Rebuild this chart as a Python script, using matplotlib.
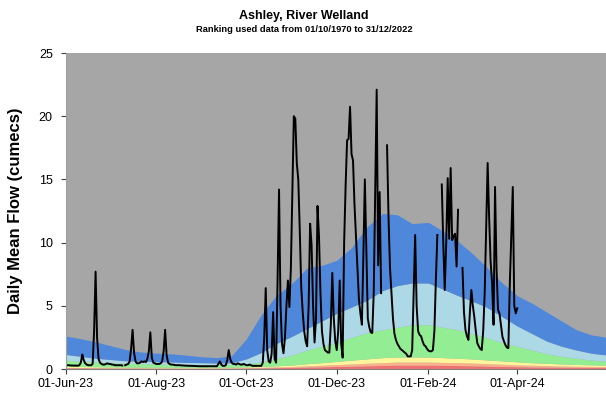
import numpy as np
import pandas as pd
import matplotlib
matplotlib.use("Agg")
import matplotlib.pyplot as plt
import matplotlib.dates as mdates

# ---- Daily mean flow (cumecs), one list per month; NaN = missing day ----
nan = np.nan
flow_jun23 = [0.3, 0.3, 0.3, 0.28, 0.28, 0.27, 0.27, 0.27, 0.26, 0.3,
              0.5, 1.15, 0.7, 0.45, 0.35, 0.3, 0.3, 0.3, 0.4, 3.0,
              7.7, 2.5, 0.8, 0.5, 0.4, 0.35, 0.35, 0.4, 0.45, 0.4]
flow_jul23 = [0.4, 0.35, 0.35, 0.3, 0.3, 0.3, 0.3, 0.3, 0.28, nan,
              0.3, 0.35, 0.4, 0.6, 1.6, 3.1, 1.3, 0.6, 0.45, 0.45,
              0.5, 0.6, 0.55, 0.6, 0.55, 0.8, 1.4, 2.9, 0.9, 0.5, 0.45]
flow_aug23 = [0.4, 0.4, 0.4, 0.45, 0.6, 1.4, 3.1, 1.1, 0.5, 0.4,
              0.35, 0.35, 0.33, 0.3, 0.3, 0.3, 0.3, 0.28, 0.28, 0.27,
              0.26, 0.26, 0.25, 0.25, 0.25, 0.24, 0.24, 0.23, 0.23, 0.22, 0.22]
flow_sep23 = [0.22, 0.22, 0.22, 0.22, 0.22, 0.22, 0.22, 0.22, 0.22, 0.22,
              0.22, 0.4, 0.6, 0.35, 0.25, 0.25, 0.3, 0.7, 1.5, 0.8,
              0.5, 0.4, 0.4, 0.35, 0.45, 0.4, 0.35, 0.35, 0.4, 0.35]
flow_oct23 = [0.3, 0.3, 0.35, 0.3, 0.25, 0.25, 0.25, 0.25, 0.25, 0.25,
              0.25, 0.5, 2.5, 6.4, 1.5, 0.6, 0.5, 1.2, 4.5, 0.8,
              0.5, 7.0, 14.2, 5.0, 2.0, 1.25, 2.5, 5.0, 7.0, 4.9, 8.0]
flow_nov23 = [14.0, 20.0, 19.8, 16.3, 15.0, 11.0, 6.5, 4.5, 3.0, 2.2,
              1.8, 5.0, 11.5, 9.8, 5.0, 2.1, 4.0, 12.9, 10.5, 6.0,
              3.0, 2.0, 1.5, 1.4, 1.3, 1.3, 3.5, 7.6, 4.0, 2.2]
flow_dec23 = [1.5, 3.0, 7.0, 2.0, 0.9, 10.0, 14.5, 18.1, 18.2, 20.75,
              17.0, 16.5, 13.0, 10.5, 8.0, 5.5, 4.4, 3.5, 9.0, 15.0,
              9.5, 4.0, 3.3, 2.9, 2.85, 6.0, 14.0, 22.1, 8.2, 14.0, 6.0]
flow_jan24 = [nan, nan, nan, 17.7, 12.0, 8.0, 6.0, 4.0, 2.8, 2.3,
              2.0, 1.8, 1.6, 1.5, 1.4, 1.3, 1.2, 1.0, 1.0, 1.0,
              1.5, 6.0, 10.6, 5.0, 3.0, 2.7, 2.6, 2.2, 1.9, 1.8, 1.6]
flow_feb24 = [1.45, 1.4, 1.4, 1.5, 3.0, 7.0, 10.6, nan, nan, 14.6,
              10.0, 6.25, 10.0, 15.1, 10.3, 15.9, 10.2, 10.5, 10.7, 8.1,
              12.6, nan, nan, 8.0, 4.5, 3.1, 2.6, 2.3, 4.5]
flow_mar24 = [6.25, 5.0, 4.1, 3.0, 2.05, 1.8, 1.6, 1.5, 3.0, 6.0,
              11.0, 16.3, 12.0, 8.5, 6.8, 3.5, 14.4, 8.0, 4.7, 4.4,
              3.5, 2.55, 2.2, 1.9, 1.7, 1.65, 6.8, 10.5, 14.4, 5.0, 4.4]
flow_apr24 = [4.8]

flow_months = [("2023-06-01", flow_jun23), ("2023-07-01", flow_jul23),
               ("2023-08-01", flow_aug23), ("2023-09-01", flow_sep23),
               ("2023-10-01", flow_oct23), ("2023-11-01", flow_nov23),
               ("2023-12-01", flow_dec23), ("2024-01-01", flow_jan24),
               ("2024-02-01", flow_feb24), ("2024-03-01", flow_mar24),
               ("2024-04-01", flow_apr24)]

# ---- Historical flow bands (upper edge of each band, cumecs) ----
band_dates = ["2023-06-01", "2023-06-11", "2023-06-21", "2023-07-01", "2023-07-11",
              "2023-07-21", "2023-08-01", "2023-08-11", "2023-08-21", "2023-09-01",
              "2023-09-11", "2023-09-21", "2023-10-01", "2023-10-11", "2023-10-21",
              "2023-11-01", "2023-11-11", "2023-11-21", "2023-12-01", "2023-12-11",
              "2023-12-21", "2024-01-01", "2024-01-11", "2024-01-21", "2024-02-01",
              "2024-02-11", "2024-02-21", "2024-03-01", "2024-03-11", "2024-03-21",
              "2024-04-01", "2024-04-11", "2024-04-21", "2024-05-01", "2024-05-11",
              "2024-05-21", "2024-06-01"]
band_red = [0.08, 0.08, 0.07, 0.07, 0.06, 0.06, 0.06, 0.06, 0.05, 0.05,
            0.05, 0.06, 0.07, 0.08, 0.10, 0.12, 0.15, 0.17, 0.20, 0.22,
            0.25, 0.28, 0.30, 0.30, 0.30, 0.29, 0.27, 0.25, 0.23, 0.20,
            0.18, 0.16, 0.15, 0.14, 0.13, 0.12, 0.11]
band_orange = [0.12, 0.12, 0.11, 0.10, 0.10, 0.10, 0.09, 0.09, 0.09, 0.09,
               0.09, 0.10, 0.11, 0.13, 0.16, 0.20, 0.25, 0.30, 0.35, 0.40,
               0.45, 0.50, 0.55, 0.55, 0.55, 0.52, 0.50, 0.47, 0.43, 0.38,
               0.33, 0.30, 0.27, 0.24, 0.22, 0.20, 0.19]
band_yellow = [0.20, 0.20, 0.18, 0.17, 0.16, 0.15, 0.15, 0.14, 0.14, 0.14,
               0.14, 0.15, 0.17, 0.20, 0.25, 0.32, 0.42, 0.50, 0.60, 0.70,
               0.80, 0.90, 0.95, 0.95, 0.95, 0.90, 0.85, 0.80, 0.72, 0.65,
               0.57, 0.50, 0.45, 0.40, 0.36, 0.33, 0.30]
band_green = [0.70, 0.60, 0.55, 0.50, 0.45, 0.42, 0.40, 0.38, 0.37, 0.35,
              0.35, 0.36, 0.42, 0.55, 0.80, 1.10, 1.50, 1.80, 2.10, 2.50,
              2.85, 3.10, 3.30, 3.50, 3.50, 3.30, 3.10, 2.80, 2.50, 2.10,
              1.80, 1.50, 1.20, 1.00, 0.85, 0.70, 0.60]
band_lightblue = [1.15, 1.00, 0.85, 0.75, 0.65, 0.62, 0.58, 0.56, 0.52, 0.50,
                  0.47, 0.50, 0.80, 1.30, 2.00, 2.60, 3.20, 3.80, 4.40, 4.90,
                  5.40, 6.20, 6.60, 6.80, 6.80, 6.30, 5.80, 5.40, 4.90, 4.20,
                  3.40, 2.80, 2.20, 1.80, 1.50, 1.25, 1.10]
band_darkblue = [2.60, 2.40, 2.15, 1.85, 1.55, 1.35, 1.25, 1.20, 1.10, 0.97,
                 0.90, 1.05, 2.40, 4.30, 5.80, 6.80, 8.00, 8.20, 8.60, 9.60,
                 11.20, 12.30, 12.20, 11.50, 11.60, 10.90, 10.10, 9.20, 8.10, 6.90,
                 5.80, 5.20, 4.50, 3.80, 3.10, 2.70, 2.50]

x_ticks = ["2023-06-01", "2023-08-01", "2023-10-01", "2023-12-01", "2024-02-01", "2024-04-01"]
y_ticks = [0, 5, 10, 15, 20, 25]

# ---- Assemble series ----
flow_dates = []
flow_vals = []
for start, vals in flow_months:
    flow_dates.extend(pd.date_range(start, periods=len(vals), freq="D"))
    flow_vals.extend(vals)
flow_dates = pd.DatetimeIndex(flow_dates)
flow_vals = np.array(flow_vals, dtype=float)

bd = pd.to_datetime(band_dates)

plt.rcParams["font.family"] = ["Liberation Sans", "DejaVu Sans"]

fig = plt.figure(figsize=(6.06, 3.94), dpi=100)
ax = fig.add_axes([66 / 606, 25 / 394, 540 / 606, 316 / 394])
ax.set_facecolor("#A6A6A6")

layers = [
    (None, band_red, "#EE7070"),
    (band_red, band_orange, "#FBB08C"),
    (band_orange, band_yellow, "#FFF59A"),
    (band_yellow, band_green, "#93EE93"),
    (band_green, band_lightblue, "#ADD8E6"),
    (band_lightblue, band_darkblue, "#4F88DA"),
]
for lo, hi, col in layers:
    lo_vals = np.zeros(len(hi)) if lo is None else np.array(lo)
    ax.fill_between(bd, lo_vals, np.array(hi), color=col, linewidth=0)

ax.plot(flow_dates, flow_vals, color="black", linewidth=1.4, solid_joinstyle="round")

ax.set_xlim(pd.Timestamp("2023-06-01"), pd.Timestamp("2024-05-31"))
ax.set_ylim(0, 25)
ax.set_xticks(pd.to_datetime(x_ticks))
ax.xaxis.set_major_formatter(mdates.DateFormatter("%d-%b-%y"))
ax.set_yticks(y_ticks)

for side in ("top", "right"):
    ax.spines[side].set_visible(False)
ax.spines["left"].set_color("#A0A0A0")
ax.spines["bottom"].set_color("#808080")
ax.spines["left"].set_linewidth(0.8)
ax.spines["bottom"].set_linewidth(0.8)
ax.tick_params(axis="both", labelsize=9, colors="#404040", labelcolor="black",
               direction="out", length=3.5, width=0.8, pad=3)
ax.tick_params(axis="y", pad=6)

ax.set_ylabel("Daily Mean Flow (cumecs)", fontsize=12, fontweight="bold")
ax.yaxis.set_label_coords(-0.08, 0.5)

fig.text(0.502, 1 - 16 / 394, "Ashley, River Welland", ha="center", va="center",
         fontsize=9, fontweight="bold")
fig.text(0.502, 1 - 29.5 / 394, "Ranking used data from 01/10/1970 to 31/12/2022",
         ha="center", va="center", fontsize=6.7, fontweight="bold")

fig.savefig("out.png", dpi=100)
